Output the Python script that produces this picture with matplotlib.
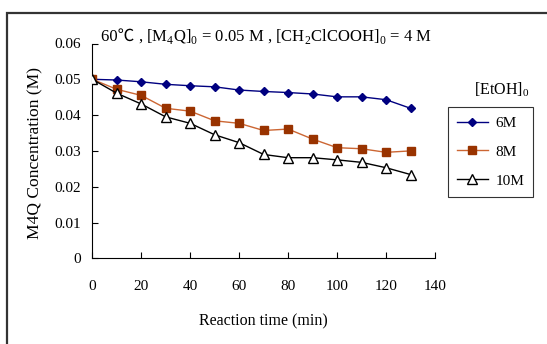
import matplotlib
matplotlib.use("Agg")
import matplotlib.pyplot as plt
from matplotlib.patches import Rectangle

plt.rcParams['font.family'] = ['Liberation Serif', 'Noto Sans CJK SC', 'DejaVu Serif']
plt.rcParams['mathtext.fontset'] = 'custom'
plt.rcParams['mathtext.rm'] = 'Liberation Serif'

time = [0, 10, 20, 30, 40, 50, 60, 70, 80, 90, 100, 110, 120, 130]
c_6M = [0.0500, 0.0498, 0.0493, 0.0486, 0.0482, 0.0479, 0.0470, 0.0466, 0.0463, 0.0459, 0.0451, 0.0451, 0.0443, 0.0419]
c_8M = [0.0500, 0.0472, 0.0455, 0.0419, 0.0411, 0.0384, 0.0377, 0.0357, 0.0361, 0.0333, 0.0309, 0.0306, 0.0296, 0.0300]
c_10M = [0.0500, 0.0461, 0.0431, 0.0395, 0.0377, 0.0345, 0.0323, 0.0290, 0.0281, 0.0281, 0.0275, 0.0268, 0.0253, 0.0234]
labels = ['6M', '8M', '10M']
xticks = [0, 20, 40, 60, 80, 100, 120, 140]
yticks = [0, 0.01, 0.02, 0.03, 0.04, 0.05, 0.06]
yticklabels = ['0', '0.01', '0.02', '0.03', '0.04', '0.05', '0.06']

W, H = 547, 344
fig = plt.figure(figsize=(W/100, H/100), dpi=100)
L, R, T, B = 92.3, 435.0, 43.5, 258.3
ax = fig.add_axes([L/W, 1-B/H, (R-L)/W, (B-T)/H])

ax.plot(time, c_6M, color='#000080', lw=1.0, marker='D', ms=4.3, mfc='#000080', mec='#000080', label=labels[0], zorder=3)
ax.plot(time, c_8M, color='#CC6633', lw=1.0, marker='s', ms=6.2, mfc='#993300', mec='#993300', label=labels[1], zorder=3)
ax.plot(time, c_10M, color='black', lw=1.0, marker='^', ms=6.5, mfc='white', mec='black', mew=1.0, label=labels[2], zorder=4)

ax.set_xlim(0, 140)
ax.set_ylim(0, 0.06)
ax.set_xticks(xticks)
ax.set_xticklabels([str(t) for t in xticks])
ax.set_yticks(yticks)
ax.set_yticklabels(yticklabels)
ax.spines['top'].set_visible(False)
ax.spines['right'].set_visible(False)
ax.tick_params(axis='x', direction='in', length=4, pad=15.5, labelsize=11)
ax.tick_params(axis='y', direction='in', length=4, pad=8, labelsize=11)
ax.set_xlabel('Reaction time (min)', fontsize=11.5)
ax.set_ylabel('M4Q Concentration (M)', fontsize=12.6)
ax.xaxis.set_label_coords(0.5, (B-321)/(B-T))
ax.xaxis.label.set_va('center')
ax.yaxis.set_label_coords((35-L)/(R-L), (B-153)/(B-T))
ax.yaxis.label.set_va('center')

t1 = fig.text(101/W, 1-36.6/H, '60℃ ', fontsize=12, ha='left', va='center',
              family=['Liberation Serif', 'Noto Sans CJK SC'])
renderer = fig.canvas.get_renderer()
bb = t1.get_window_extent(renderer)
fig.text(bb.x1/W, 1-36.6/H, r', [M$_4$Q]$_0$ = 0.05 M , [CH$_2$ClCOOH]$_0$ = 4 M',
         fontsize=12, ha='left', va='center')

fig.text(502/W, 1-90/H, r'[EtOH]$_0$', fontsize=11.5, ha='center', va='center')
leg = fig.legend(loc='upper left', bbox_to_anchor=(448/W, 1-107/H), borderaxespad=0, fontsize=11,
                 frameon=True, fancybox=False, edgecolor='black', handlelength=2.0,
                 borderpad=0.6, labelspacing=1.0, handletextpad=0.5)
leg.get_frame().set_linewidth(0.8)

fig.patches.append(Rectangle((7/W, -0.1), 1.2, 1-12.9/H+0.1, transform=fig.transFigure,
                             fill=False, edgecolor='#333333', lw=1.6, clip_on=False))

fig.savefig('out.png', dpi=100)
